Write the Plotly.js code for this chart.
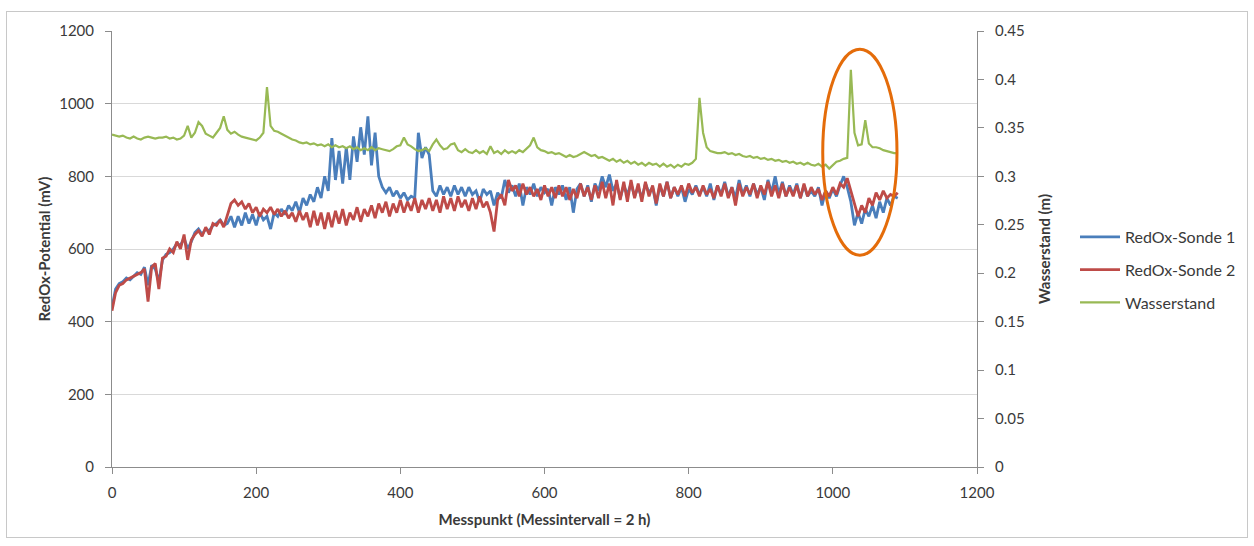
<!DOCTYPE html>
<html>
<head>
<meta charset="utf-8">
<script src="https://cdn.plot.ly/plotly-3.0.1.min.js"></script>
<style>
  html, body { margin: 0; padding: 0; background: #ffffff; }
  #wrap { position: relative; width: 1254px; height: 546px; }
  #chart { width: 1254px; height: 546px; }
  #frame { position: absolute; left: 6px; top: 11px; width: 1242px; height: 527px;
           border: 1px solid #c8c8c8; pointer-events: none; box-sizing: border-box; }
</style>
</head>
<body>
<div id="wrap">
  <div id="chart"></div>
  <div id="frame"></div>
</div>
<script>
// Messpunkt spacing of the sampled values below (every 5th measuring point)
const stepMesspunkt = 5;

// RedOx-Sonde 1 (mV)
const sonde1 = [
 440,490,505,510,520,515,525,535,530,550,500,555,545,510,570,585,590,600,615,610,
 630,600,620,645,655,640,655,650,665,670,680,665,670,690,660,690,665,700,670,695,
 665,700,680,690,655,700,690,710,695,720,705,730,700,740,720,750,730,770,740,800,
 760,905,790,870,780,880,790,910,840,935,860,965,830,920,800,770,755,770,745,760,
 740,755,735,745,740,920,850,880,860,760,745,775,750,770,745,775,750,770,745,770,
 750,760,730,765,750,760,720,755,740,790,755,775,745,780,720,770,750,780,745,770,
 755,765,720,770,750,775,735,770,700,765,780,745,775,730,780,760,800,770,805,760,
 780,740,775,750,780,745,770,740,780,755,770,720,775,745,785,740,770,745,770,730,
 765,750,775,750,770,745,780,735,775,750,785,745,770,740,790,750,775,745,780,750,
 770,735,790,755,800,750,785,745,775,750,780,740,775,745,760,745,770,720,760,740,
 765,745,775,800,770,730,665,700,670,710,690,720,685,730,700,740,720,745,740
];

// RedOx-Sonde 2 (mV)
const sonde2 = [
 430,480,500,505,515,520,525,530,535,545,455,550,560,490,575,580,600,590,620,600,
 640,570,625,640,650,635,660,640,670,665,680,660,690,725,735,720,730,710,725,700,
 715,690,710,700,715,695,710,690,705,685,700,675,705,680,700,660,705,665,700,655,
 700,660,705,670,710,665,700,680,715,675,710,690,720,685,725,700,730,690,725,700,
 735,700,730,705,740,700,735,710,740,705,735,700,745,710,740,705,745,715,735,705,
 740,710,745,715,730,700,648,735,750,720,790,760,775,745,780,750,770,745,765,735,
 775,745,770,740,775,745,770,735,765,740,780,745,770,735,775,740,785,740,780,720,
 790,735,785,730,790,740,780,730,785,745,775,725,780,745,785,740,770,750,775,745,
 780,755,770,745,775,750,765,740,775,745,780,740,770,720,780,745,770,750,780,740,
 775,750,785,745,775,740,780,745,770,745,775,740,780,745,770,750,765,735,760,745,
 770,750,780,770,795,760,730,690,720,700,740,720,755,735,760,740,750,745,755
];

// Wasserstand (m)
const wasserstand = [
 0.343,0.342,0.341,0.342,0.340,0.339,0.341,0.339,0.338,0.340,0.341,0.340,0.339,0.340,0.340,0.341,0.339,0.340,0.338,0.339,
 0.342,0.352,0.340,0.345,0.356,0.352,0.344,0.342,0.340,0.345,0.350,0.362,0.348,0.344,0.346,0.343,0.341,0.340,0.339,0.338,
 0.337,0.340,0.345,0.392,0.352,0.347,0.346,0.344,0.342,0.340,0.338,0.337,0.335,0.334,0.335,0.333,0.334,0.332,0.333,0.331,
 0.333,0.330,0.332,0.330,0.331,0.329,0.331,0.328,0.330,0.327,0.329,0.327,0.330,0.327,0.329,0.328,0.327,0.326,0.328,0.331,
 0.332,0.340,0.333,0.331,0.328,0.326,0.327,0.329,0.326,0.333,0.338,0.332,0.328,0.329,0.333,0.334,0.327,0.325,0.328,0.325,
 0.324,0.327,0.324,0.326,0.323,0.331,0.324,0.326,0.323,0.327,0.324,0.326,0.324,0.327,0.325,0.328,0.332,0.340,0.330,0.327,
 0.326,0.324,0.325,0.323,0.324,0.322,0.320,0.322,0.320,0.321,0.323,0.325,0.323,0.321,0.322,0.319,0.320,0.318,0.316,0.318,
 0.315,0.317,0.314,0.316,0.313,0.315,0.312,0.314,0.311,0.314,0.312,0.313,0.310,0.313,0.310,0.312,0.309,0.312,0.310,0.313,
 0.312,0.314,0.318,0.381,0.345,0.330,0.326,0.325,0.324,0.324,0.325,0.323,0.324,0.322,0.323,0.321,0.320,0.321,0.319,0.320,
 0.318,0.319,0.317,0.318,0.316,0.317,0.315,0.316,0.314,0.315,0.313,0.314,0.312,0.314,0.312,0.311,0.313,0.310,0.312,0.308,
 0.312,0.315,0.316,0.318,0.319,0.410,0.345,0.332,0.333,0.358,0.334,0.330,0.330,0.329,0.327,0.326,0.325,0.324,0.324
];

const xTickVals = [0, 200, 400, 600, 800, 1000, 1200];
const yTickVals = [0, 200, 400, 600, 800, 1000, 1200];
const y2TickVals = [0, 0.05, 0.1, 0.15, 0.2, 0.25, 0.3, 0.35, 0.4, 0.45];
const y2TickText = ['0', '0.05', '0.1', '0.15', '0.2', '0.25', '0.3', '0.35', '0.4', '0.45'];

// highlighted region (ellipse) in data coordinates
const ellipseX = [986, 1089];
const ellipseY = [583, 1150];

const mp = arr => arr.map((_, i) => i * stepMesspunkt);

const font = 'Lato, "Open Sans", "DejaVu Sans", sans-serif';
const txt = '#3a3a3a';

const traces = [
  { x: mp(sonde1), y: sonde1, name: 'RedOx-Sonde 1', type: 'scatter', mode: 'lines',
    line: { color: '#4a7ebb', width: 2.8 }, yaxis: 'y', legendgroup: 'a' },
  { x: mp(sonde2), y: sonde2, name: 'RedOx-Sonde 2', type: 'scatter', mode: 'lines',
    line: { color: '#be4b48', width: 2.8 }, yaxis: 'y', legendgroup: 'b' },
  { x: mp(wasserstand), y: wasserstand, name: 'Wasserstand', type: 'scatter', mode: 'lines',
    line: { color: '#98b954', width: 2.2 }, yaxis: 'y2', legendgroup: 'c' }
];

const layout = {
  width: 1254, height: 546,
  margin: { l: 112, r: 277, t: 31, b: 79 },
  paper_bgcolor: '#ffffff', plot_bgcolor: '#ffffff',
  font: { family: font, size: 15, color: txt },
  showlegend: true,
  legend: { x: 1.1133, y: 0.452, xanchor: 'left', yanchor: 'middle',
            font: { family: font, size: 16, color: txt },
            traceorder: 'grouped', tracegroupgap: 9, itemwidth: 40,
            bgcolor: 'rgba(0,0,0,0)' },
  xaxis: { range: [0, 1200], tickvals: xTickVals, ticks: 'outside', ticklen: 6,
           tickcolor: '#8c8c8c', showline: true, linecolor: '#8c8c8c', linewidth: 1,
           showgrid: false, zeroline: false, ticklabelstandoff: 6,
           tickfont: { family: font, size: 15, color: txt },
           title: { text: '<b>Messpunkt (Messintervall = 2 h)</b>', standoff: 14,
                    font: { family: font, size: 15, color: txt } } },
  yaxis: { range: [0, 1200], tickvals: yTickVals, ticks: 'outside', ticklen: 6,
           tickcolor: '#8c8c8c', showline: true, linecolor: '#8c8c8c', linewidth: 1,
           showgrid: true, gridcolor: '#d9d9d9', gridwidth: 1, zeroline: false,
           ticklabelstandoff: 8,
           tickfont: { family: font, size: 15, color: txt },
           title: { text: '<b>RedOx-Potential (mV)</b>', standoff: 4,
                    font: { family: font, size: 15, color: txt } } },
  yaxis2: { range: [0, 0.45], tickvals: y2TickVals, ticktext: y2TickText, overlaying: 'y', side: 'right',
            ticks: 'outside', ticklen: 6, tickcolor: '#8c8c8c',
            showline: true, linecolor: '#8c8c8c', linewidth: 1,
            showgrid: false, zeroline: false, ticklabelstandoff: 8,
            tickfont: { family: font, size: 15, color: txt },
            title: { text: '<b>Wasserstand (m)</b>', standoff: 15,
                     font: { family: font, size: 15, color: txt } } },
  shapes: [
    { type: 'circle', xref: 'x', yref: 'y', x0: ellipseX[0], x1: ellipseX[1],
      y0: ellipseY[0], y1: ellipseY[1], line: { color: '#e46c0a', width: 3 } }
  ]
};

Plotly.newPlot('chart', traces, layout, { staticPlot: true, displayModeBar: false });
</script>
</body>
</html>
